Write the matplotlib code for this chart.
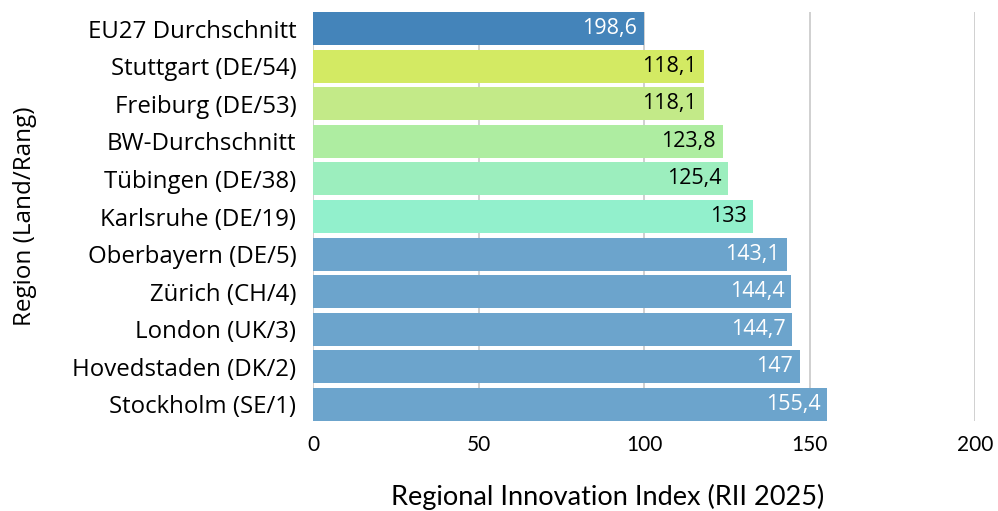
import matplotlib
matplotlib.use("Agg")
import matplotlib.pyplot as plt

regions = [
    "EU27 Durchschnitt", "Stuttgart (DE/54)", "Freiburg (DE/53)", "BW-Durchschnitt",
    "Tübingen (DE/38)", "Karlsruhe (DE/19)", "Oberbayern (DE/5)", "Zürich (CH/4)",
    "London (UK/3)", "Hovedstaden (DK/2)", "Stockholm (SE/1)",
]
rii_values = [100, 118.1, 118.1, 123.8, 125.4, 133, 143.1, 144.4, 144.7, 147, 155.4]
value_labels = ["198,6", "118,1", "118,1", "123,8", "125,4", "133",
                "143,1", "144,4", "144,7", "147", "155,4"]
bar_colors = ["#4484BA", "#D3EA63", "#C3EA88", "#AEEDA1", "#9CEEBE", "#92F0CC",
              "#6CA4CC", "#6CA4CC", "#6CA4CC", "#6CA4CC", "#6CA4CC"]
label_colors = ["white", "black", "black", "black", "black", "black",
                "white", "white", "white", "white", "white"]
x_ticks = [0, 50, 100, 150, 200]

label_font = "Open Sans"
axis_font = "Lato"

fig = plt.figure(figsize=(9.98, 5.11), dpi=100)
ax = fig.add_axes([313 / 998, 1 - 421 / 511, (975 - 313) / 998, (421 - 12) / 511])

ypos = list(range(len(regions)))
bars = ax.barh(ypos, rii_values, height=0.88, color=bar_colors, zorder=2)
ax.set_ylim(len(regions) - 1 + 0.44, -0.44)
ax.set_xlim(0, 200)

for bar, txt, col in zip(bars, value_labels, label_colors):
    ax.text(bar.get_width() - 2.0, bar.get_y() + bar.get_height() / 2, txt,
            ha="right", va="center", color=col, fontsize=15.5, family=label_font, zorder=3)

ax.set_yticks(ypos)
ax.set_yticklabels(regions, fontsize=17.3, family=label_font)
ax.set_xticks(x_ticks)
ax.set_xticklabels([str(t) for t in x_ticks], fontsize=15, family=axis_font)
ax.tick_params(axis="both", length=0)
ax.tick_params(axis="x", pad=10)
ax.tick_params(axis="y", pad=12)

ax.grid(axis="x", color="#C8C8C8", linewidth=1.2, zorder=0)
ax.grid(axis="y", visible=False)
for s in ax.spines.values():
    s.set_visible(False)

ax.set_xlabel("Regional Innovation Index (RII 2025)", fontsize=19.5, family=axis_font)
ax.xaxis.set_label_coords((608 - 313) / 662, 1 - (497 - 12) / 409)
ax.xaxis.label.set_va("center")
ax.set_ylabel("Region (Land/Rang)", fontsize=17.5, family=label_font)
ax.yaxis.set_label_coords((25 - 313) / 662, 0.5)
ax.yaxis.label.set_va("center")

fig.savefig("out.png", dpi=100)
